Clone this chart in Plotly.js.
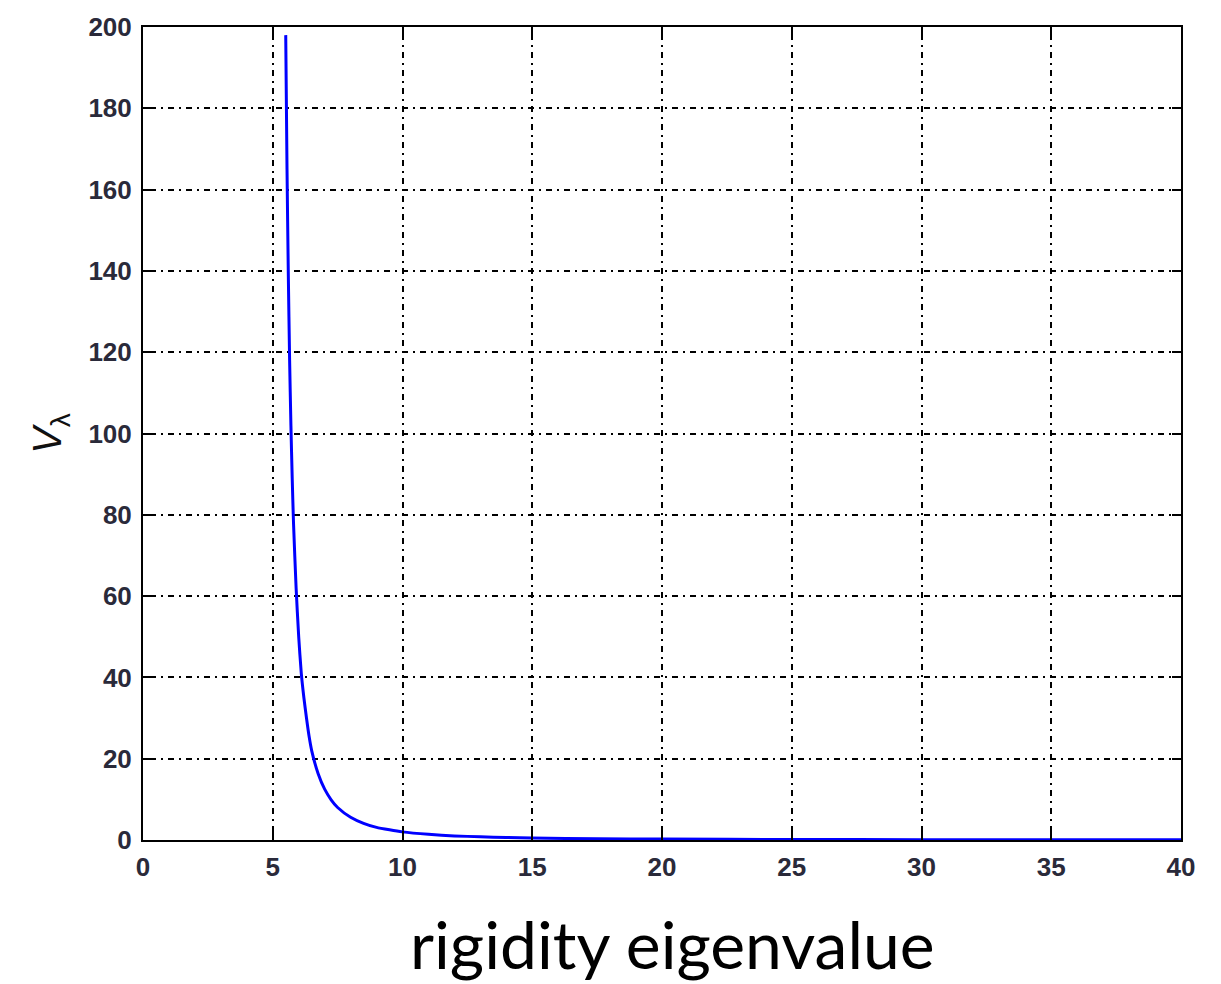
<!DOCTYPE html>
<html>
<head>
<meta charset="utf-8">
<script src="https://cdn.plot.ly/plotly-3.0.1.min.js"></script>
<style>html,body{margin:0;padding:0;background:#fff;}#chart{width:1221px;height:984px;}</style>
</head>
<body>
<div id="chart"></div>
<script>
// Values
const eigenvalue = [5.5, 5.55, 5.6, 5.65, 5.7, 5.75, 5.8, 5.9, 6.0, 6.1, 6.2, 6.3, 6.4, 6.5, 6.75, 7.0, 7.25, 7.5, 8.0, 8.5, 9.0, 9.5, 10, 11, 12, 13, 14, 15, 17.5, 20, 25, 30, 35, 40];
const vLambda    = [198, 165, 139, 118, 102, 89, 78, 62, 50, 41, 35, 30, 25.5, 22, 16.3, 12.5, 9.9, 8.0, 5.6, 4.1, 3.1, 2.5, 2.0, 1.4, 1.0, 0.8, 0.6, 0.5, 0.3, 0.22, 0.12, 0.08, 0.05, 0.04];
const xTicks = [0, 5, 10, 15, 20, 25, 30, 35, 40];
const yTicks = [0, 20, 40, 60, 80, 100, 120, 140, 160, 180, 200];
const xLabel = 'rigidity eigenvalue';
const yLabel = '<i>V</i><sub>λ</sub>';

const axisCommon = {
  showline: true, linecolor: '#000', linewidth: 2, mirror: 'ticks',
  ticks: 'inside', ticklen: 9, tickwidth: 2, tickcolor: '#000',
  showgrid: true, gridcolor: '#000', gridwidth: 2, griddash: '2px,5px,6px,5px',
  zeroline: false, automargin: false,
  tickfont: {family: 'Liberation Sans, Arial, sans-serif', size: 26, color: '#2a2a3a', weight: 'bold'}
};

Plotly.newPlot('chart', [{
  x: eigenvalue, y: vLambda, type: 'scatter', mode: 'lines',
  line: {color: '#0000ff', width: 3, shape: 'spline', smoothing: 0.6}
}], {
  width: 1221, height: 984,
  margin: {l: 143, r: 40, t: 27, b: 144},
  paper_bgcolor: '#fff', plot_bgcolor: '#fff',
  showlegend: false,
  xaxis: Object.assign({}, axisCommon, {range: [0, 40], tickvals: xTicks, ticktext: xTicks.map(String), ticklabelstandoff: 3}),
  yaxis: Object.assign({}, axisCommon, {range: [0, 200], tickvals: yTicks, ticktext: yTicks.map(String), ticklabelstandoff: 4,
    title: {text: yLabel, font: {family: 'Liberation Sans, Arial, sans-serif', size: 40, color: '#111'}, standoff: 14}}),
  annotations: [{
    text: xLabel, xref: 'paper', yref: 'paper', x: 0.51, y: -0.127,
    xanchor: 'center', yanchor: 'middle', showarrow: false,
    font: {family: 'Lato, Noto Sans, sans-serif', size: 66, color: '#000'}
  }]
}, {displayModeBar: false, staticPlot: true});
</script>
</body>
</html>
